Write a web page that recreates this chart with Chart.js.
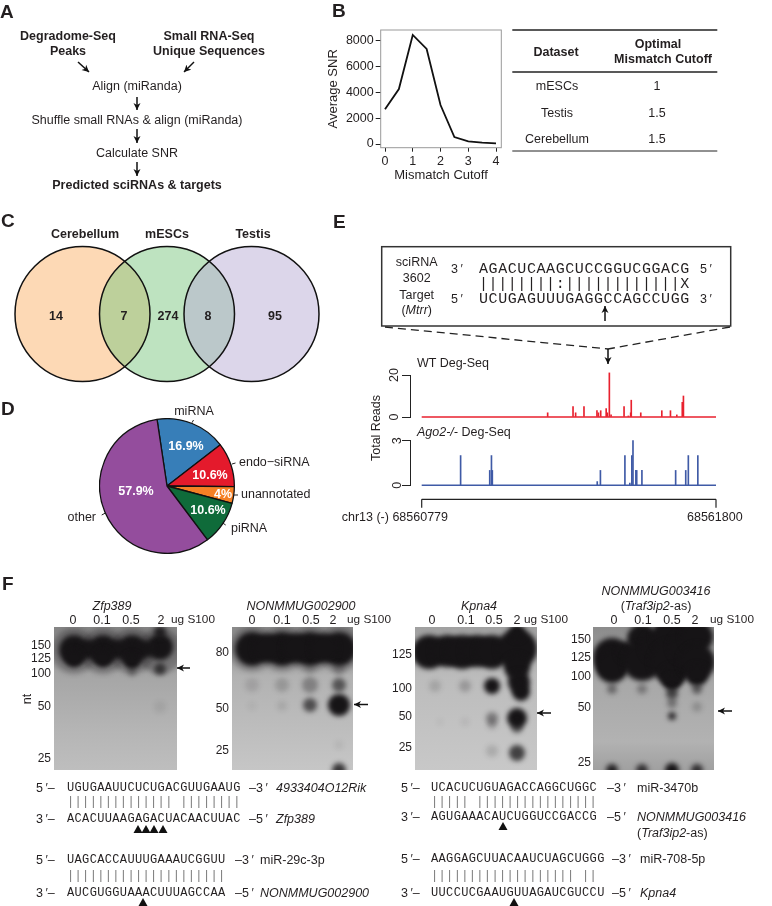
<!DOCTYPE html>
<html>
<head>
<meta charset="utf-8">
<title>sciRNA figure</title>
<script src="https://cdn.jsdelivr.net/npm/chart.js@4"></script>
<style>
    html, body { margin: 0; padding: 0; background: #fff; }
    #page { position: relative; width: 772px; height: 906px; overflow: hidden; font-family: "Liberation Sans", Arial, sans-serif; color: #231f20; }
    #page canvas { position: absolute; }
    .t { position: absolute; white-space: pre; line-height: 1; font-size: 12.5px; }
    .b { font-weight: bold; }
    .big { font-weight: bold; font-size: 19px; }
    .w { color: #fff; font-weight: bold; }
    .seq { font-family: "Liberation Mono", monospace; font-size: 12px; letter-spacing: 0.35px; }
    .seqBig { font-family: "Liberation Mono", monospace; font-size: 15px; letter-spacing: 0.58px; }
    .pair { color: #777; }
    .gel { position: absolute; }
    svg { position: absolute; left: 0; top: 0; }
</style>
</head>
<body>
<div id="page">
    <div class="gel" style="left:54px;top:627px;width:123px;height:143px;background:linear-gradient(#858585,#a4a4a4 30%,#b4b4b4 70%,#bebebe)"><canvas id="gel1" width="123" height="143"></canvas></div>
    <div class="gel" style="left:232px;top:627px;width:121px;height:143px;background:linear-gradient(#8c8c8c,#b2b2b2 35%,#c6c6c6)"><canvas id="gel2" width="121" height="143"></canvas></div>
    <div class="gel" style="left:415px;top:627px;width:122px;height:143px;background:linear-gradient(#a0a0a0,#bcbcbc 35%,#c8c8c8)"><canvas id="gel3" width="122" height="143"></canvas></div>
    <div class="gel" style="left:593px;top:627px;width:121px;height:143px;background:linear-gradient(#8c8c8c,#a8a8a8 40%,#b2b2b2 80%,#a0a0a0)"><canvas id="gel4" width="121" height="143"></canvas></div>
    <canvas id="snrChart" width="184" height="163" style="left:326px;top:20px"></canvas>
    <canvas id="vennChart" width="320" height="150" style="left:8px;top:240px"></canvas>
    <canvas id="pieChart" width="136" height="136" style="left:99px;top:418px"></canvas>
    <canvas id="wtChart" width="338" height="67" style="left:380px;top:360px"></canvas>
    <canvas id="koChart" width="338" height="70" style="left:380px;top:425px"></canvas>
    <svg id="overlay" width="772" height="906">
        <defs>
            <marker id="head" markerUnits="userSpaceOnUse" markerWidth="8" markerHeight="8" refX="7" refY="4" orient="auto">
                <path d="M0,0.5 L7,4 L0,7.5 L2,4 Z" fill="#111"></path>
            </marker>
        </defs>
    </svg>
</div>
<script>
// panel B
const cutoffs = [0, 0.5, 1, 1.5, 2, 2.5, 3, 3.5, 4];
const avgSnr = [2700, 4270, 8470, 7380, 3030, 540, 200, 100, 50];
const snrTicks = [0, 2000, 4000, 6000, 8000];
const tableDatasets = ['mESCs', 'Testis', 'Cerebellum'];
const tableCutoffs = ['1', '1.5', '1.5'];

// panel C
const vennSets = ['Cerebellum', 'mESCs', 'Testis'];
const vennCounts = ['14', '7', '274', '8', '95'];

// panel D
const pieLabels = ['miRNA', 'endo\u2212siRNA', 'unannotated', 'piRNA', 'other'];
const pieValues = [16.9, 10.6, 4, 10.6, 57.9];

// panel E, position is bases from the start of the window
const wtPos = [437, 525, 534, 563, 608, 613, 621, 640, 644, 651, 657, 702, 717, 725, 727, 760, 833, 863, 885, 904, 908];
const wtReads = [2, 5, 2, 5, 3, 2, 3, 4, 2, 21, 1, 5, 0.5, 2, 8, 2, 3, 3, 1, 7, 10];
const koPos = [135, 236, 242, 245, 609, 620, 705, 722, 729, 733, 743, 746, 764, 881, 916, 925, 958];
const koReads = [2, 1, 2, 1, 0.25, 1, 2, 0.15, 2, 3, 1, 1, 1, 1, 1, 2, 2];

// panel F, rows of [lane offset, migration, size, darkness]
const gel1Bands = [
    [20, 24, 23, 0.3], [49, 24, 23, 0.3], [78, 24, 23, 0.3], [106, 24, 23, 0.3],
    [20, 23, 15, 1], [49, 23, 15, 1], [78, 23, 15, 1], [106, 20, 13, 1],
    [34, 22, 9, 1], [63, 22, 9, 1], [92, 22, 8, 1],
    [20, 31, 9, 1], [49, 31, 9, 1], [78, 34, 8, 1],
    [106, 5, 6, 0.85], [106, 42, 6, 0.7], [78, 45, 4, 0.35], [106, 80, 6, 0.08]
];
const gel2Bands = [
    [20, 22, 23, 0.25], [50, 22, 23, 0.25], [78, 22, 23, 0.25], [107, 22, 23, 0.25],
    [20, 22, 17, 1], [50, 22, 17, 1], [78, 22, 17, 1], [107, 22, 17, 1],
    [35, 21, 14, 1], [64, 21, 14, 1], [92, 21, 14, 1],
    [20, 58, 7, 0.12], [50, 58, 7, 0.18], [78, 58, 8, 0.32], [107, 58, 7, 0.6],
    [78, 42, 5, 0.15], [107, 42, 6, 0.25],
    [20, 79, 4, 0.06], [50, 79, 5, 0.1], [78, 78, 7, 0.65], [107, 78, 11, 1],
    [107, 118, 4, 0.08], [107, 143, 7, 0.8]
];
const gel3Bands = [
    [14, 25, 17, 1], [32, 24, 16, 1], [47, 25, 17, 1], [62, 24, 16, 1], [77, 25, 17, 1], [102, 22, 20, 1],
    [102, 6, 8, 1], [102, 40, 13, 1], [104, 55, 11, 1], [106, 65, 9, 1], [77, 59, 8, 1],
    [102, 91, 10, 1], [102, 100, 6, 0.6], [102, 126, 8, 0.75],
    [77, 91, 6, 0.4], [77, 97, 5, 0.25], [77, 124, 6, 0.15],
    [20, 59, 6, 0.15], [50, 59, 6, 0.22], [25, 95, 3, 0.05], [50, 95, 4, 0.07]
];
const gel4Bands = [
    [19, 30, 19, 1], [19, 40, 16, 1], [34, 25, 10, 1], [49, 12, 15, 1], [49, 35, 19, 1], [64, 20, 16, 1],
    [79, 10, 20, 1], [79, 35, 22, 1], [79, 50, 12, 1], [79, 55, 7, 1], [92, 20, 16, 1],
    [104, 10, 16, 1], [104, 35, 18, 1], [104, 48, 11, 1],
    [19, 62, 5, 0.45], [49, 62, 5, 0.35], [79, 66, 6, 0.7], [104, 62, 5, 0.55], [79, 76, 5, 0.4], [104, 80, 5, 0.2], [79, 89, 4, 0.85],
    [19, 143, 6, 0.9], [49, 143, 6, 0.8], [79, 143, 7, 1], [104, 143, 6, 0.8]
];

const FONT = '"Liberation Sans", Arial, sans-serif';
const page = document.getElementById('page');
const overlay = document.getElementById('overlay');

function txt(x, y, html, cls, align) {
    const el = document.createElement('div');
    el.className = 't ' + (cls || '');
    el.innerHTML = html;
    el.style.left = x + 'px';
    el.style.top = y + 'px';
    const tx = align === 'l' ? '0' : (align === 'r' ? '-100%' : '-50%');
    el.style.transform = 'translate(' + tx + ',-50%)';
    page.appendChild(el);
    return el;
}

function svgEl(name, attrs) {
    const el = document.createElementNS('http://www.w3.org/2000/svg', name);
    Object.keys(attrs).forEach(k => el.setAttribute(k, attrs[k]));
    overlay.appendChild(el);
    return el;
}

function line(x1, y1, x2, y2, width, color, dash) {
    const attrs = { x1: x1, y1: y1, x2: x2, y2: y2, stroke: color || '#222', 'stroke-width': width || 1 };
    if (dash) attrs['stroke-dasharray'] = dash;
    svgEl('line', attrs);
}

function arrow(x1, y1, x2, y2) {
    svgEl('line', { x1: x1, y1: y1, x2: x2, y2: y2, stroke: '#111', 'stroke-width': 1.5, 'marker-end': 'url(#head)' });
}

function triangle(x, y) {
    svgEl('polygon', { points: (x - 4.5) + ',' + (y + 8) + ' ' + x + ',' + y + ' ' + (x + 4.5) + ',' + (y + 8), fill: '#111' });
}

// panel A
txt(0, 11, 'A', 'big', 'l');
txt(68, 36, 'Degradome-Seq', 'b');
txt(68, 51, 'Peaks', 'b');
txt(209, 36, 'Small RNA-Seq', 'b');
txt(209, 51, 'Unique Sequences', 'b');
txt(137, 86, 'Align (miRanda)');
txt(137, 120, 'Shuffle small RNAs &amp; align (miRanda)');
txt(137, 153, 'Calculate SNR');
txt(137, 185, 'Predicted sciRNAs &amp; targets', 'b');
arrow(78, 62, 89, 72);
arrow(194, 62, 184, 72);
arrow(137, 97, 137, 110);
arrow(137, 129, 137, 143);
arrow(137, 162, 137, 176);

// panel B
txt(332, 10, 'B', 'big', 'l');
const frame = {
    id: 'frame',
    afterDraw(chart) {
        const a = chart.chartArea, ctx = chart.ctx;
        ctx.save();
        ctx.strokeStyle = '#999';
        ctx.lineWidth = 1;
        ctx.strokeRect(a.left, a.top, a.right - a.left, a.bottom - a.top);
        ctx.restore();
    }
};
new Chart(document.getElementById('snrChart'), {
    type: 'line',
    data: {
        datasets: [{
            data: cutoffs.map((c, i) => ({ x: c, y: avgSnr[i] })),
            borderColor: '#111',
            borderWidth: 1.8,
            pointRadius: 0,
            tension: 0
        }]
    },
    plugins: [frame],
    options: {
        responsive: false,
        animation: false,
        layout: { padding: { left: 0, right: 8.7, top: 10, bottom: 0 } },
        plugins: { legend: { display: false }, tooltip: { enabled: false } },
        scales: {
            x: {
                type: 'linear',
                min: -0.155,
                max: 4.19,
                afterBuildTicks: s => { s.ticks = [0, 1, 2, 3, 4].map(v => ({ value: v })); },
                afterFit: s => { s.height = 35.3; },
                border: { display: false },
                grid: { drawOnChartArea: false, tickColor: '#222', tickLength: 4 },
                ticks: { color: '#231f20', padding: 2, maxRotation: 0, font: { family: FONT, size: 12.5 } },
                title: { display: true, text: 'Mismatch Cutoff', color: '#231f20', padding: 0, font: { family: FONT, size: 13 } }
            },
            y: {
                min: -287,
                max: 8854,
                afterBuildTicks: s => { s.ticks = snrTicks.map(v => ({ value: v })); },
                afterFit: s => { s.width = 54.7; },
                border: { display: false },
                grid: { drawOnChartArea: false, tickColor: '#222', tickLength: 5 },
                ticks: { color: '#231f20', padding: 2, callback: v => String(v), font: { family: FONT, size: 12.5 } },
                title: { display: true, text: 'Average SNR', color: '#231f20', padding: 0, font: { family: FONT, size: 13 } }
            }
        }
    }
});
line(512.3, 30, 717.3, 30, 1.3);
line(512.3, 72, 717.3, 72, 1.6);
line(512.3, 151, 717.3, 151, 1);
txt(556, 52, 'Dataset', 'b');
txt(658, 44, 'Optimal', 'b');
txt(663, 59, 'Mismatch Cutoff', 'b');
[86, 113, 139].forEach((y, i) => {
    txt(557, y, tableDatasets[i]);
    txt(657, y, tableCutoffs[i]);
});

// panel C
txt(1, 220, 'C', 'big', 'l');
const vennCircles = [{ x: 74.5, y: 74, r: 67.5 }, { x: 159, y: 74, r: 67.5 }, { x: 243.5, y: 74, r: 67.5 }];
new Chart(document.getElementById('vennChart'), {
    type: 'bubble',
    data: {
        datasets: [
            { data: vennCircles, backgroundColor: 'rgba(0,0,0,0)', borderColor: '#111', borderWidth: 1.5 },
            { data: vennCircles.slice(), backgroundColor: ['#fdd9b5', 'rgba(125,199,130,0.5)', 'rgba(185,173,213,0.5)'], borderWidth: 0 }
        ]
    },
    options: {
        responsive: false,
        animation: false,
        layout: { autoPadding: false },
        plugins: { legend: { display: false }, tooltip: { enabled: false } },
        scales: {
            x: { type: 'linear', min: 0, max: 320, display: false },
            y: { type: 'linear', min: 0, max: 150, reverse: true, display: false }
        }
    }
});
[85, 167, 253].forEach((x, i) => txt(x, 234, vennSets[i], 'b'));
[56, 124, 168, 208, 275].forEach((x, i) => txt(x, 316, vennCounts[i], 'b'));

// panel D
txt(1, 408, 'D', 'big', 'l');
new Chart(document.getElementById('pieChart'), {
    type: 'pie',
    data: {
        labels: pieLabels,
        datasets: [{
            data: pieValues,
            backgroundColor: ['#377eb8', '#e41a2c', '#f58025', '#0f6b3a', '#944d9d'],
            borderColor: '#111',
            borderWidth: 1.3
        }]
    },
    options: {
        responsive: false,
        animation: false,
        rotation: -8.5,
        plugins: { legend: { display: false }, tooltip: { enabled: false } }
    }
});
[[186, 446], [210, 475], [223, 494], [208, 510], [136, 491]].forEach((p, i) => {
    txt(p[0], p[1], pieValues[i] + '%', 'w');
});
txt(194, 411, pieLabels[0]);
txt(239, 462, pieLabels[1], '', 'l');
txt(241, 494, pieLabels[2], '', 'l');
txt(231, 528, pieLabels[3], '', 'l');
txt(96, 517, pieLabels[4], '', 'r');
line(192, 422.7, 193.5, 420);
line(232, 464, 235.5, 463);
line(233.5, 495, 238, 495);
line(222.7, 523, 225.7, 525);
line(106, 512.7, 101.7, 515);

// panel E
txt(333, 221, 'E', 'big', 'l');
svgEl('rect', { x: 381.7, y: 246.7, width: 349, height: 79.3, fill: 'none', stroke: '#333', 'stroke-width': 1.5 });
txt(416.7, 262, 'sciRNA');
txt(416.7, 277.7, '3602');
txt(416.7, 295, 'Target');
txt(416.7, 310, '(<i>Mtrr</i>)');
txt(451, 269, '3\u2009\u2032', '', 'l');
txt(479, 269, 'AGACUCAAGCUCCGGUCGGACG', 'seqBig', 'l');
txt(700, 269, '5\u2009\u2032', '', 'l');
txt(479, 284, '||||||||:||||||||||||X', 'seqBig', 'l');
txt(451, 299, '5\u2009\u2032', '', 'l');
txt(479, 299, 'UCUGAGUUUGAGGCCAGCCUGG', 'seqBig', 'l');
txt(700, 299, '3\u2009\u2032', '', 'l');
arrow(605, 321, 605, 306);
line(385, 327, 608, 349, 1.3, '#222', '8 5');
line(730, 327, 608, 349, 1.3, '#222', '8 5');
arrow(608, 349, 608, 364);
txt(417, 363, 'WT Deg-Seq', '', 'l');
txt(417, 431.7, '<i>Ago2-/-</i> Deg-Seq', '', 'l');
txt(375.7, 428, 'Total Reads').style.transform = 'translate(-50%,-50%) rotate(-90deg)';

function readsChart(id, pos, reads, color, yMax, padTop, padBottom) {
    new Chart(document.getElementById(id), {
        type: 'bar',
        data: {
            datasets: [
                { type: 'line', data: [{ x: 0, y: 0 }, { x: 1021, y: 0 }], borderColor: color, borderWidth: 1.5, pointRadius: 0, clip: false },
                { data: pos.map((p, i) => ({ x: p, y: reads[i] })), backgroundColor: color, barThickness: 1, clip: false }
            ]
        },
        options: {
            responsive: false,
            animation: false,
            layout: { padding: { left: 0, right: 2, top: padTop, bottom: padBottom } },
            plugins: { legend: { display: false }, tooltip: { enabled: false } },
            scales: {
                x: { type: 'linear', min: -40.6, max: 1021, display: false, offset: false },
                y: {
                    min: 0,
                    max: yMax,
                    afterBuildTicks: s => { s.ticks = [{ value: 0 }, { value: yMax }]; },
                    afterFit: s => { s.width = 30; },
                    border: { color: '#222', width: 1 },
                    grid: { drawOnChartArea: false, tickColor: '#222', tickLength: 8 },
                    ticks: { color: '#231f20', padding: 1, minRotation: 90, maxRotation: 90, crossAlign: 'center', font: { family: FONT, size: 12.5 } }
                }
            }
        }
    });
}
readsChart('wtChart', wtPos, wtReads, '#e8212e', 20, 15, 10);
readsChart('koChart', koPos, koReads, '#3f5aa6', 3, 15.7, 9.7);

line(421.7, 499.3, 716, 499.3, 1.2);
line(421.7, 499.3, 421.7, 507.7, 1.2);
line(716, 499.3, 716, 507.7, 1.2);
txt(341.7, 516.7, 'chr13 (-) 68560779', '', 'l');
txt(687, 516.7, '68561800', '', 'l');

// panel F gels
txt(2, 583, 'F', 'big', 'l');
const blurPlugin = {
    id: 'blur',
    beforeDatasetsDraw(chart) { chart.ctx.save(); chart.ctx.filter = 'blur(2.5px)'; },
    afterDatasetsDraw(chart) { chart.ctx.restore(); }
};
function gelChart(id, bands, w) {
    new Chart(document.getElementById(id), {
        type: 'bubble',
        data: {
            datasets: [{
                data: bands.map(b => ({ x: b[0], y: b[1], r: b[2] })),
                backgroundColor: bands.map(b => 'rgba(22,20,22,' + b[3] + ')'),
                borderWidth: 0
            }]
        },
        plugins: [blurPlugin],
        options: {
            responsive: false,
            animation: false,
            layout: { autoPadding: false },
            plugins: { legend: { display: false }, tooltip: { enabled: false } },
            scales: {
                x: { type: 'linear', min: 0, max: w, display: false },
                y: { type: 'linear', min: 0, max: 143, reverse: true, display: false }
            }
        }
    });
}
gelChart('gel1', gel1Bands, 123);
gelChart('gel2', gel2Bands, 121);
gelChart('gel3', gel3Bands, 122);
gelChart('gel4', gel4Bands, 121);

const laneLabels = ['0', '0.1', '0.5', '2'];
function gelText(titleX, titleY, title, laneX, ugX, labelX, labels) {
    txt(titleX, titleY, title);
    laneX.forEach((x, i) => txt(x, 620, laneLabels[i]));
    txt(ugX, 620, 'ug S100', '', 'l').style.fontSize = '11.8px';
    labels.forEach(l => txt(labelX, l[1], l[0], '', 'r').style.fontSize = '12px');
}
gelText(112, 606, '<i>Zfp389</i>', [73, 102, 131, 161], 171, 51, [['150', 645], ['125', 658], ['100', 673], ['50', 706], ['25', 758]]);
gelText(301, 606, '<i>NONMMUG002900</i>', [252, 282, 311, 333], 347, 229, [['80', 652], ['50', 708], ['25', 750]]);
gelText(479, 606, '<i>Kpna4</i>', [432, 466, 494, 517], 524, 412, [['125', 654], ['100', 688], ['50', 716], ['25', 747]]);
gelText(656, 591, '<i>NONMMUG003416</i>', [614, 643, 672, 695], 710, 591, [['150', 639], ['125', 657], ['100', 676], ['50', 707], ['25', 762]]);
txt(656, 606, '(<i>Traf3ip2</i>-as)');
txt(27, 699, 'nt').style.transform = 'translate(-50%,-50%) rotate(-90deg)';
arrow(190, 668, 177, 668);
arrow(368, 704.5, 354, 704.5);
arrow(551, 713, 537, 713);
arrow(732, 711, 718, 711);

// panel F alignments
function duplex(x, y1, y2, y3, pairs, seqX, endX, nameX, top, name, bottom, name2) {
    txt(x, y1, '5\u2009\u2032\u2013', '', 'l');
    txt(seqX, y1, top, 'seq', 'l');
    txt(endX, y1, '\u20133\u2009\u2032', '', 'l');
    txt(nameX, y1, name, '', 'l');
    txt(seqX, y2, pairs, 'seq pair', 'l');
    txt(x, y3, '3\u2009\u2032\u2013', '', 'l');
    txt(seqX, y3, bottom, 'seq', 'l');
    txt(endX, y3, '\u20135\u2009\u2032', '', 'l');
    txt(nameX, y3, name2, '', 'l');
}
duplex(36, 788, 802, 819, '|||||||||||||| ||||||||', 67, 249, 276, 'UGUGAAUUCUCUGACGUUGAAUG', '<i>4933404O12Rik</i>', 'ACACUUAAGAGACUACAACUUAC', '<i>Zfp389</i>');
duplex(36, 860, 876, 893, '|||||||||||||||||||||', 67, 235, 260, 'UAGCACCAUUUGAAAUCGGUU', 'miR-29c-3p', 'AUCGUGGUAAACUUUAGCCAA', '<i>NONMMUG002900</i>');
duplex(401, 788, 802, 817, '||||| ||||||||||||||||', 431, 607, 637, 'UCACUCUGUAGACCAGGCUGGC', 'miR-3470b', 'AGUGAAACAUCUGGUCCGACCG', '<i>NONMMUG003416</i>');
txt(637, 833, '(<i>Traf3ip2</i>-as)', '', 'l');
duplex(401, 859, 876, 893, '||||||||||||||||||| ||', 431, 612, 640, 'AAGGAGCUUACAAUCUAGCUGGG', 'miR-708-5p', 'UUCCUCGAAUGUUAGAUCGUCCU', '<i>Kpna4</i>');
[138, 146, 154, 163].forEach(x => triangle(x, 825));
triangle(143, 898);
triangle(503, 822);
triangle(514, 898);
</script>
</body>
</html>
